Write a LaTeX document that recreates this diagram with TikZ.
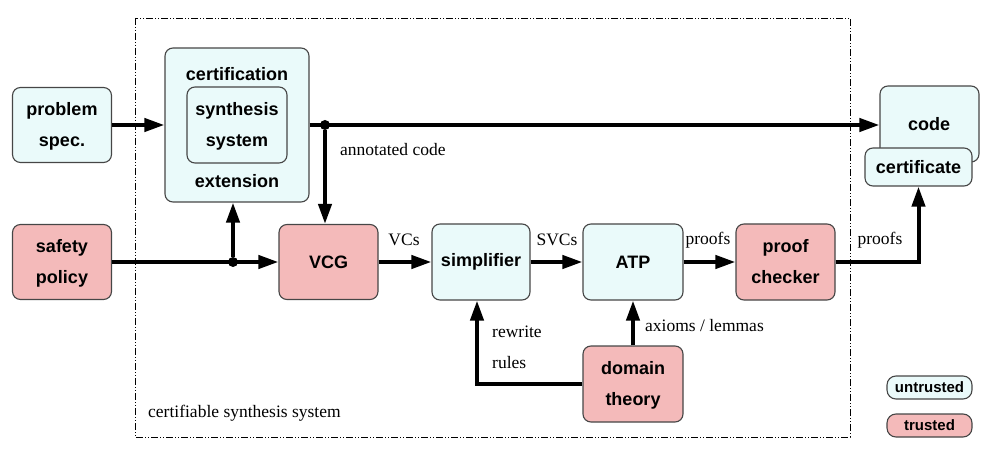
\documentclass[tikz,border=0pt]{standalone}
\usepackage{fontspec}
\setmainfont{Liberation Serif}
\newfontfamily\hsf{Liberation Sans}
\usetikzlibrary{arrows.meta}
\definecolor{ucol}{RGB}{234,250,250}
\definecolor{tcol}{RGB}{244,186,186}
\definecolor{bcol}{RGB}{70,70,70}
\newcommand{\twoline}[2]{\raisebox{-3pt}{\begin{tabular}{@{}c@{}}#1\\#2\end{tabular}}}
\tikzset{
  boxbase/.style={draw=bcol, line width=1.1pt, rounded corners=8pt, inner sep=0pt,
    align=center, font=\hsf\bfseries\fontsize{18}{31}\selectfont},
  ubox/.style={boxbase, fill=ucol},
  tbox/.style={boxbase, fill=tcol},
  plain/.style={font=\hsf\bfseries\fontsize{18}{31}\selectfont, inner sep=0pt},
  lbl/.style={font=\fontsize{17.5}{30}\selectfont, inner sep=0pt},
  conn/.style={line width=4pt},
  arr/.style={conn, -{Triangle[length=20pt,width=13pt]}},
  dot/.style={circle, fill=black, inner sep=0pt, minimum size=10pt},
  frame/.style={line width=0.8pt, dash pattern=on 7pt off 2pt on 1pt off 2pt on 1pt off 2pt},
}
\begin{document}
\begin{tikzpicture}[x=1pt,y=-1pt]
\useasboundingbox (0,0) rectangle (991,457);
% frame
\draw[frame] (135,18) rectangle (850,437);
\node[lbl, anchor=west] (fl) at (148,413) {certifiable synthesis system};
% boxes
\node[ubox, minimum width=99pt, minimum height=75pt] (ps) at (62,125) {\twoline{problem}{spec.}};
\node[tbox, minimum width=99pt, minimum height=75pt] (sp) at (62,262) {\twoline{safety}{policy}};
\node[ubox, minimum width=144pt, minimum height=154pt] (cert) at (237,125) {};
\node[plain] (ct1) at (237,74) {certification};
\node[plain] (ct2) at (237,181) {extension};
\node[ubox, minimum width=100pt, minimum height=76pt] (syn) at (237,125) {\twoline{synthesis}{system}};
\node[tbox, minimum width=99pt, minimum height=75pt] (vcg) at (328.5,262) {VCG};
\node[ubox, minimum width=98pt, minimum height=76pt] (simp) at (481,262) {simplifier};
\node[ubox, minimum width=100pt, minimum height=76pt] (atp) at (633,262) {ATP};
\node[tbox, minimum width=99pt, minimum height=76pt] (pc) at (785.5,262) {\twoline{proof}{checker}};
\node[tbox, minimum width=100pt, minimum height=76pt] (dt) at (633,384) {\twoline{domain}{theory}};
\node[ubox, minimum width=99pt, minimum height=76pt] (code) at (929.5,124) {};
\node[plain] (codet) at (929,124) {code};
\node[ubox, minimum width=107pt, minimum height=38pt] (certf) at (918.5,167) {certificate};
% legend
\node[ubox, font=\hsf\bfseries\fontsize{15}{18}\selectfont, rounded corners=9pt, minimum width=85pt, minimum height=23pt] (lu) at (929.5,387.5) {untrusted};
\node[tbox, font=\hsf\bfseries\fontsize{15}{18}\selectfont, rounded corners=9pt, minimum width=85pt, minimum height=23pt] (lt) at (929.5,425.5) {trusted};
% junctions
\node[dot] (j1) at (325,125) {};
\node[dot] (j2) at (233,262) {};
% connectors
\draw[arr] (ps.east) -- (cert.west |- ps.east);
\draw[arr] (cert.east |- j1) -- (code.west |- j1);
\draw[arr] (j1) -- (j1 |- vcg.north);
\draw[arr] (sp.east) -- (vcg.west);
\draw[arr] (j2) -- (j2 |- cert.south);
\draw[arr] (vcg.east) -- (simp.west);
\draw[arr] (simp.east) -- (atp.west);
\draw[arr] (atp.east) -- (pc.west);
\draw[arr] (pc.east) -| (certf.south);
\draw[arr] (dt.north) -- (atp.south);
\coordinate (rw) at (477,384);
\draw[arr] (dt.west) -- (rw) -- (rw |- simp.south);
% labels
\node[lbl, anchor=west] (lac) at (340,150) {annotated code};
\node[lbl] (lvc) at (404,240) {VCs};
\node[lbl] (lsvc) at (557,240) {SVCs};
\node[lbl] (lp1) at (708,240) {proofs};
\node[lbl] (lp2) at (880,240) {proofs};
\node[lbl, anchor=west] (lax) at (645,326) {axioms / lemmas};
\node[lbl, anchor=west] (lrw) at (492,332) {rewrite};
\node[lbl, anchor=west] (lru) at (492,363) {rules};
\end{tikzpicture}
\end{document}
